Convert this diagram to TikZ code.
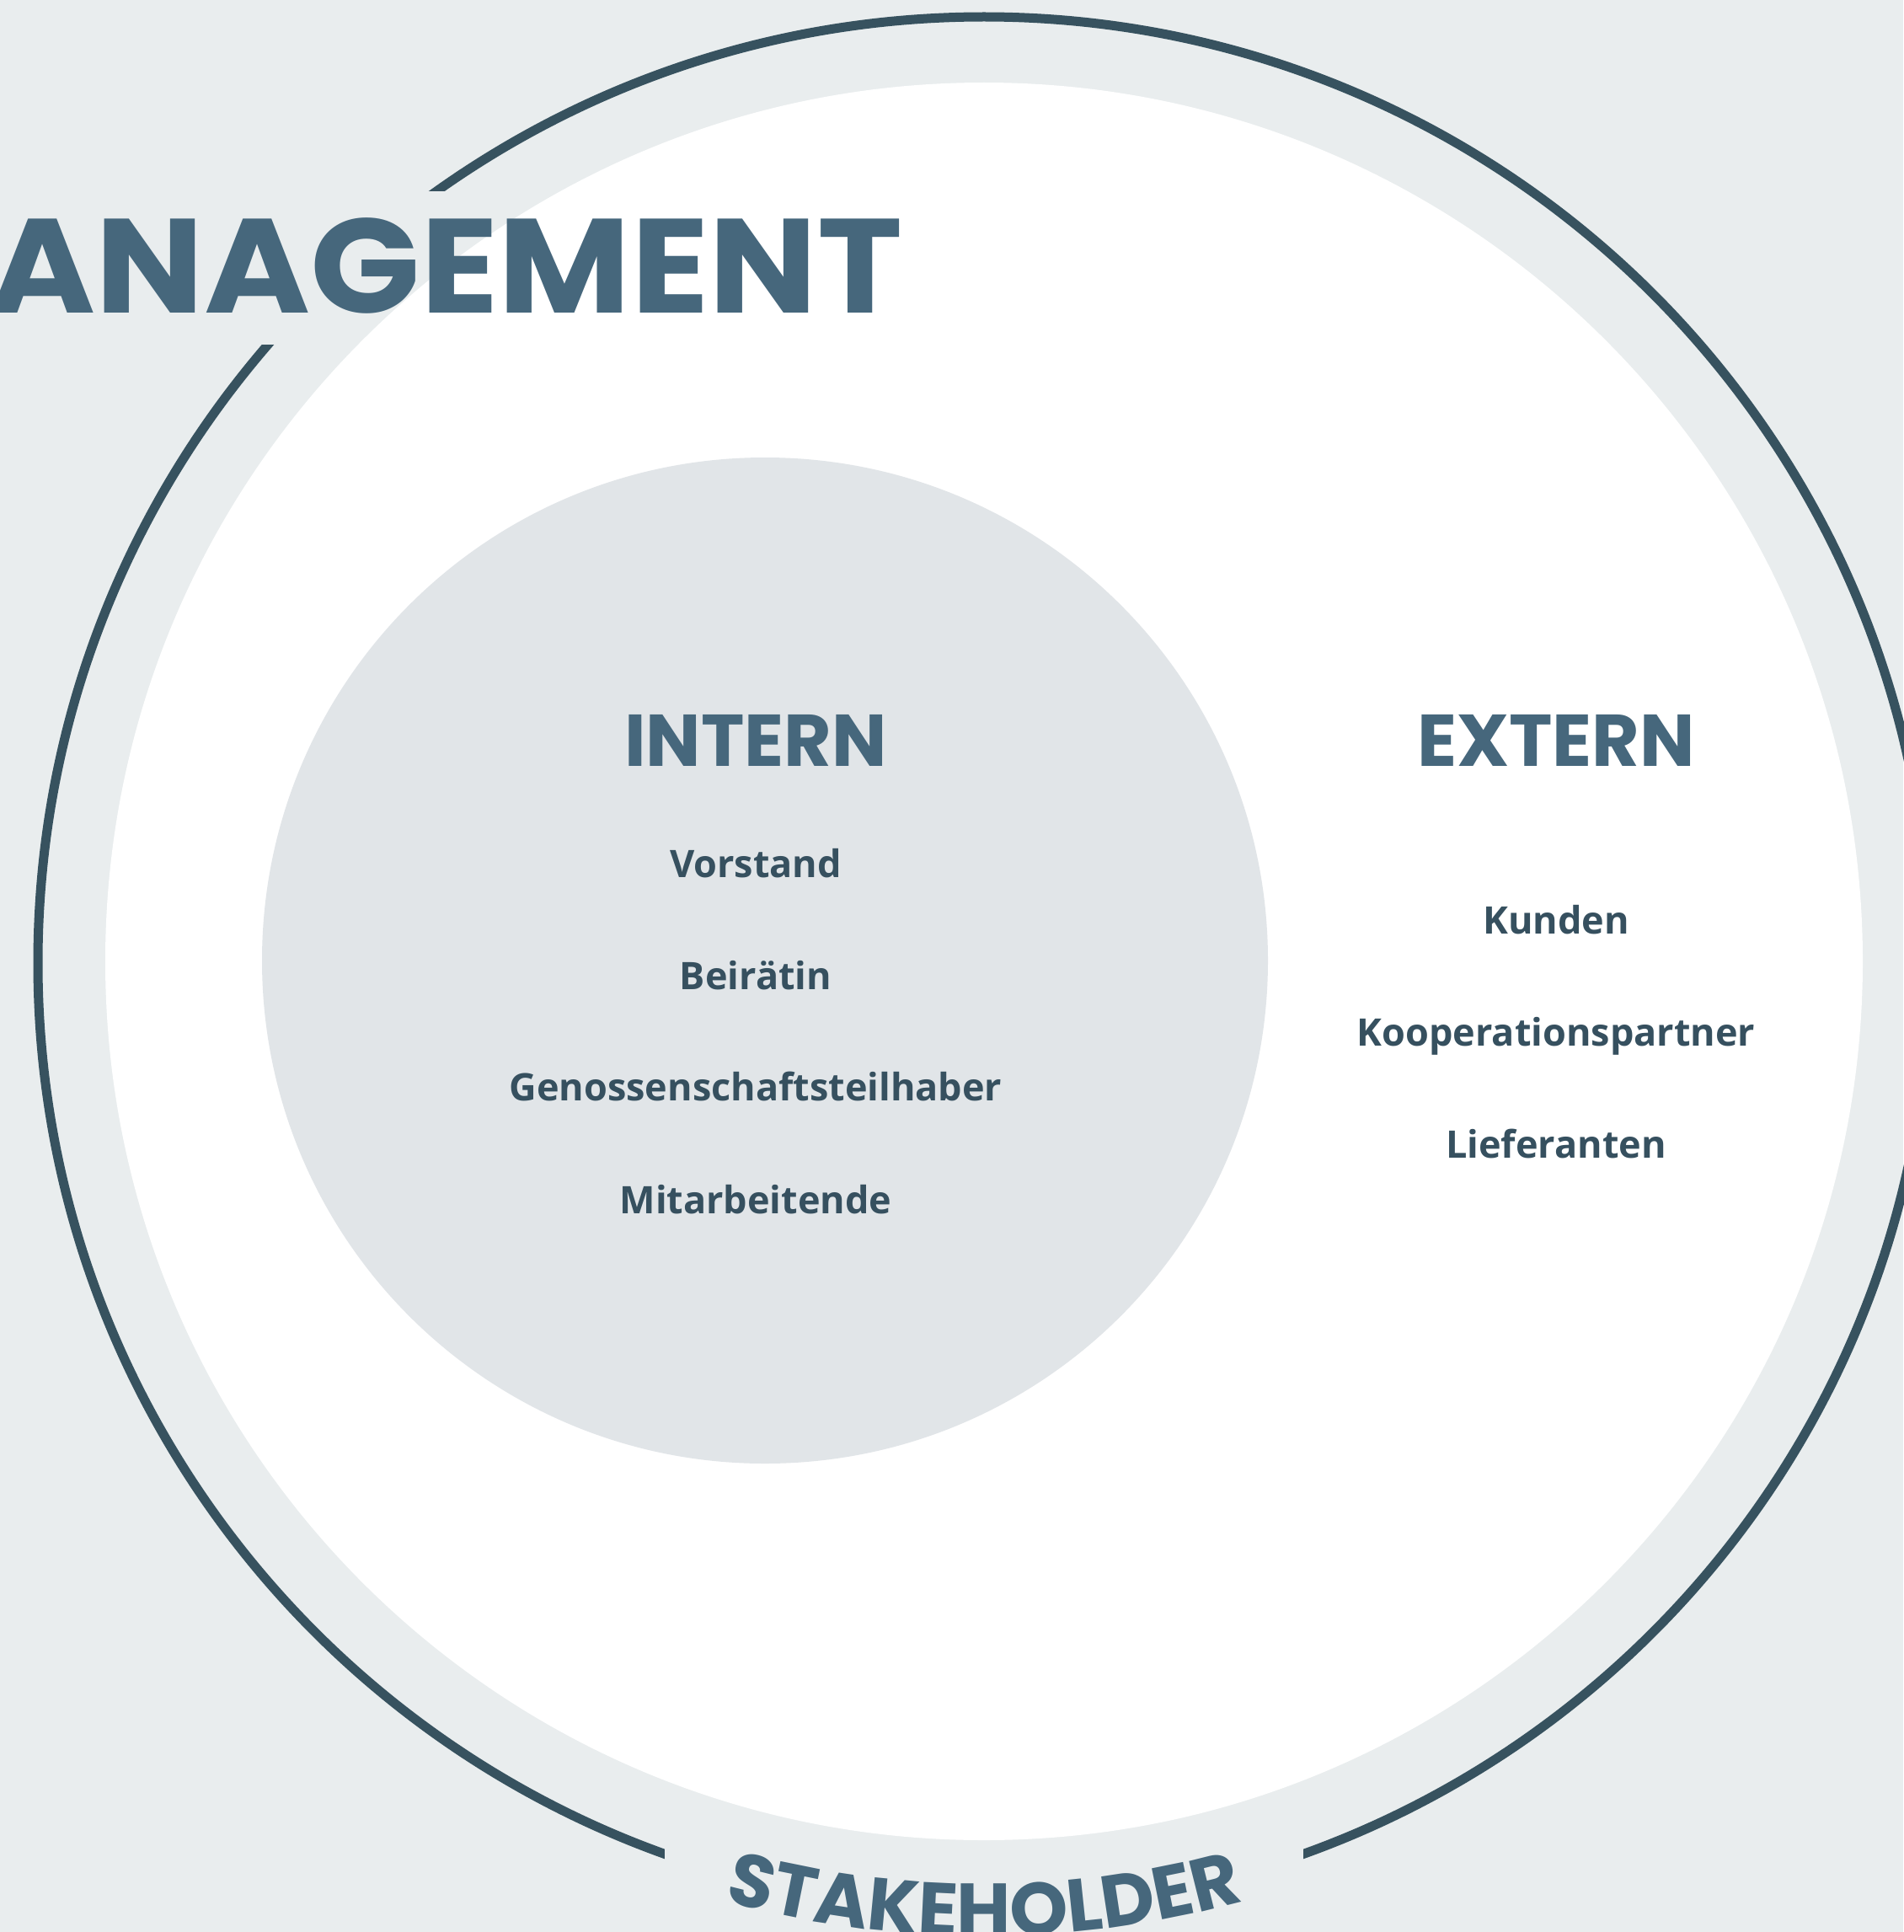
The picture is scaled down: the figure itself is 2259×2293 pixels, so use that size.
\documentclass[tikz,border=0pt]{standalone}
\usepackage{fontspec}
\usetikzlibrary{decorations.text,calc}
\newfontfamily\headfont{Poppins}
\newfontfamily\bodyfont{Open Sans}
\definecolor{canvasbg}{HTML}{E9EDEE}
\definecolor{innerfill}{HTML}{E1E5E8}
\definecolor{ringline}{HTML}{37525F}
\definecolor{headblue}{HTML}{46677C}
\definecolor{bodyblue}{HTML}{36505F}

\begin{document}
\begin{tikzpicture}[x=1pt,y=1pt,
  headline/.style={font=\headfont\bfseries\fontsize{87}{90}\selectfont, text=headblue, inner sep=0pt, anchor=base},
  member/.style={font=\bodyfont\bfseries\fontsize{45}{50}\selectfont, text=bodyblue, inner sep=0pt, anchor=base}]
\useasboundingbox (0,0) rectangle (2259,-2293);
\fill[canvasbg] (0,0) rectangle (2259,-2293);

% outer ring with two openings for the titles
\coordinate (ctr) at (1168,-1143);
\draw[ringline, line width=11pt] (ctr) circle[radius=1123pt];
\fill[canvasbg] (250,-227) rectangle (560,-409);
\fill[canvasbg] (789,-2000) rectangle (1547,-2300);

% stakeholder field and inner core
\fill[white] (1168,-1141) circle[radius=1043pt];
\fill[innerfill] (908,-1140) circle[radius=597pt];

% title at the top left
\node[font=\headfont\bfseries\fontsize{159}{160}\selectfont, text=headblue, inner sep=0pt, anchor=base east] (mgmt) at (1072,-371) {\scalebox{1.077}[1]{ANAGEMENT}};

% curved label along the bottom
\path[decorate, decoration={text along path, text align=center,
  text={|\headfont\bfseries\fontsize{88}{90}\selectfont\color{headblue}|STAKEHOLDER}}]
  ($(ctr)+(235:1155)$) arc[start angle=235, end angle=305, radius=1155pt];

% internal group
\node[headline] (intern) at (897,-909) {INTERN};
\node[member] (vorstand) at (897,-1041) {Vorstand};
\node[member] (beirat) at (897,-1174) {Beirätin};
\node[member] (genossen) at (897,-1306) {Genossenschaftsteilhaber};
\node[member] (mitarb) at (897,-1440) {Mitarbeitende};

% external group
\node[headline] (extern) at (1847,-909) {EXTERN};
\node[member] (kunden) at (1847,-1108) {Kunden};
\node[member] (koop) at (1847,-1241) {Kooperationspartner};
\node[member] (liefer) at (1847,-1374) {Lieferanten};
\end{tikzpicture}
\end{document}
